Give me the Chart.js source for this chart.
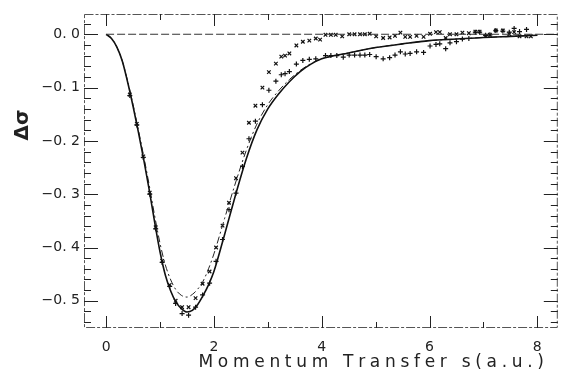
<!DOCTYPE html>
<html>
<head>
<meta charset="utf-8">
<script src="https://cdn.jsdelivr.net/npm/chart.js@4.4.1/dist/chart.umd.min.js"></script>
<style>
  body { margin: 0; background: #fff; }
  #wrap { width: 563px; height: 379px; }
</style>
</head>
<body>
<div id="wrap"><canvas id="chart" width="563" height="379"></canvas></div>
<script>
// momentum transfer grid for the two theory curves
const curveS = [0, 0.1, 0.2, 0.3, 0.4, 0.5, 0.6, 0.7, 0.8, 0.9, 1.0, 1.1, 1.2, 1.3, 1.4, 1.5, 1.6, 1.7, 1.8, 1.9, 2.0, 2.2, 2.4, 2.6, 2.8, 3.0, 3.2, 3.4, 3.6, 3.8, 4.0, 4.5, 5.0, 5.5, 6.0, 6.5, 7.0, 7.5, 8.0];
const solidCurve = [0, -0.008, -0.024, -0.050, -0.090, -0.135, -0.184, -0.236, -0.292, -0.352, -0.408, -0.452, -0.482, -0.503, -0.515, -0.521, -0.518, -0.507, -0.490, -0.470, -0.445, -0.375, -0.302, -0.234, -0.179, -0.140, -0.112, -0.089, -0.070, -0.056, -0.046, -0.035, -0.025, -0.018, -0.012, -0.009, -0.006, -0.004, -0.002];
const dashCurve = [0, -0.008, -0.024, -0.050, -0.088, -0.132, -0.180, -0.230, -0.283, -0.340, -0.392, -0.433, -0.461, -0.480, -0.490, -0.493, -0.488, -0.478, -0.463, -0.440, -0.412, -0.345, -0.279, -0.218, -0.168, -0.132, -0.106, -0.085, -0.068, -0.055, -0.046, -0.035, -0.025, -0.018, -0.012, -0.009, -0.006, -0.004, -0.002];

// experimental points, "x" markers
const crossS = [0.44, 0.57, 0.69, 0.81, 0.92, 1.04, 1.18, 1.29, 1.41, 1.53, 1.66, 1.79, 1.92, 2.04, 2.16, 2.28, 2.41, 2.53, 2.65, 2.77, 2.90, 3.02, 3.15, 3.25, 3.32, 3.40, 3.53, 3.65, 3.77, 3.89, 3.97, 4.07, 4.17, 4.26, 4.38, 4.51, 4.61, 4.71, 4.80, 4.89, 5.01, 5.14, 5.26, 5.36, 5.46, 5.55, 5.64, 5.76, 5.89, 6.01, 6.12, 6.19, 6.30, 6.38, 6.50, 6.61, 6.73, 6.85, 6.93, 7.04, 7.12, 7.23, 7.36, 7.48, 7.57, 7.67, 7.80, 7.88];
const crossVal = [-0.113, -0.168, -0.229, -0.297, -0.362, -0.425, -0.470, -0.500, -0.512, -0.512, -0.495, -0.468, -0.445, -0.400, -0.359, -0.316, -0.270, -0.222, -0.166, -0.134, -0.100, -0.071, -0.055, -0.042, -0.040, -0.036, -0.021, -0.014, -0.012, -0.008, -0.010, -0.001, -0.001, -0.001, -0.004, 0.000, 0.000, 0.000, 0.000, 0.001, -0.004, -0.007, -0.006, -0.003, 0.003, -0.005, -0.005, -0.003, -0.005, 0.001, 0.004, 0.004, -0.007, 0.000, 0.000, 0.003, 0.002, 0.005, 0.005, -0.003, -0.001, 0.007, 0.007, 0.000, 0.004, -0.004, -0.004, -0.004];

// experimental points, "+" markers
const plusS = [0.44, 0.57, 0.69, 0.81, 0.92, 1.04, 1.18, 1.29, 1.41, 1.53, 1.66, 1.79, 1.92, 2.04, 2.16, 2.28, 2.41, 2.53, 2.65, 2.77, 2.90, 3.02, 3.15, 3.25, 3.32, 3.40, 3.53, 3.65, 3.77, 3.89, 4.07, 4.17, 4.28, 4.40, 4.51, 4.61, 4.71, 4.80, 4.89, 5.01, 5.14, 5.26, 5.36, 5.46, 5.55, 5.64, 5.76, 5.89, 6.01, 6.12, 6.19, 6.30, 6.38, 6.50, 6.61, 6.73, 6.85, 6.93, 7.04, 7.12, 7.23, 7.36, 7.48, 7.57, 7.67, 7.80];
const plusVal = [-0.115, -0.170, -0.231, -0.300, -0.365, -0.428, -0.473, -0.505, -0.524, -0.527, -0.512, -0.489, -0.467, -0.426, -0.385, -0.329, -0.298, -0.248, -0.196, -0.163, -0.132, -0.105, -0.088, -0.076, -0.074, -0.070, -0.056, -0.049, -0.047, -0.046, -0.040, -0.040, -0.040, -0.043, -0.039, -0.039, -0.039, -0.039, -0.038, -0.042, -0.046, -0.044, -0.039, -0.033, -0.037, -0.036, -0.033, -0.034, -0.022, -0.019, -0.018, -0.027, -0.016, -0.014, -0.009, -0.008, 0.004, 0.004, -0.002, -0.001, 0.007, 0.006, 0.004, 0.011, 0.005, 0.009];

// zero reference line
const zeroLineS = [0, 8.4];
const zeroLineVal = [0, 0];

// axes
const xTicks = [0, 2, 4, 6, 8];
const xMinorTicks = [1, 3, 5, 7];
const yTicks = [0, -0.1, -0.2, -0.3, -0.4, -0.5];
const yTickLabels = ["0. 0", "\u22120. 1", "\u22120. 2", "\u22120. 3", "\u22120. 4", "\u22120. 5"];
const yMinorTicks = [0.02, -0.02, -0.04, -0.06, -0.08, -0.12, -0.14, -0.16, -0.18, -0.22, -0.24, -0.26, -0.28, -0.32, -0.34, -0.36, -0.38, -0.42, -0.44, -0.46, -0.48, -0.52, -0.54];
const xTitle = "Momentum Transfer s(a.u.)";
const yTitle = "\u0394\u03c3";

function pts(xs, ys) {
    return xs.map((x, i) => ({ x: x, y: ys[i] }));
}

// frame, inward ticks and axis titles
const framePlugin = {
    id: "frame",
    afterDatasetsDraw(chart) {
        const ctx = chart.ctx;
        const a = chart.chartArea;
        const xs = chart.scales.x;
        const ys = chart.scales.y;
        ctx.save();
        ctx.strokeStyle = "#555";
        ctx.lineWidth = 1;
        ctx.setLineDash([9, 2, 3, 2]);
        ctx.strokeRect(a.left + 0.5, a.top + 0.5, a.right - a.left - 1, a.bottom - a.top - 1);
        ctx.setLineDash([]);
        ctx.strokeStyle = "#222";
        ctx.beginPath();
        xTicks.concat(xMinorTicks).forEach(v => {
            const len = xTicks.includes(v) ? 12 : 6;
            const px = Math.round(xs.getPixelForValue(v)) + 0.5;
            ctx.moveTo(px, a.bottom); ctx.lineTo(px, a.bottom - len);
            ctx.moveTo(px, a.top); ctx.lineTo(px, a.top + len);
        });
        yTicks.concat(yMinorTicks).forEach(v => {
            const len = yTicks.includes(v) ? 14 : 7;
            const py = Math.round(ys.getPixelForValue(v)) + 0.5;
            ctx.moveTo(a.left, py); ctx.lineTo(a.left + len, py);
            ctx.moveTo(a.right, py); ctx.lineTo(a.right - len, py);
        });
        ctx.stroke();

        // x title, widely spaced like the plotter font
        ctx.fillStyle = "#222";
        ctx.font = "17px 'DejaVu Sans'";
        ctx.textBaseline = "middle";
        ctx.textAlign = "left";
        const wanted = 343;
        const plain = ctx.measureText(xTitle).width;
        const gap = (wanted - plain) / (xTitle.length - 1);
        let cx = 370 - wanted / 2;
        for (const ch of xTitle) {
            ctx.fillText(ch, cx, 363);
            cx += ctx.measureText(ch).width + gap;
        }

        // y title
        ctx.translate(23, 125);
        ctx.rotate(-Math.PI / 2);
        ctx.font = "bold 20px 'DejaVu Sans'";
        ctx.textAlign = "center";
        ctx.fillText(yTitle, 0, 0);
        ctx.restore();
    }
};

const ctx = document.getElementById("chart").getContext("2d");
new Chart(ctx, {
    type: "scatter",
    data: {
        datasets: [
            {
                data: pts(zeroLineS, zeroLineVal),
                showLine: true,
                borderColor: "#333",
                borderWidth: 1,
                borderDash: [8, 3],
                pointRadius: 0
            },
            {
                data: pts(curveS, solidCurve),
                showLine: true,
                borderColor: "#111",
                borderWidth: 1.6,
                cubicInterpolationMode: "monotone",
                pointRadius: 0
            },
            {
                data: pts(curveS, dashCurve),
                showLine: true,
                borderColor: "#222",
                borderWidth: 1,
                borderDash: [7, 3, 2, 3],
                cubicInterpolationMode: "monotone",
                pointRadius: 0
            },
            {
                data: pts(crossS, crossVal),
                pointStyle: "crossRot",
                pointRadius: 2.5,
                borderColor: "#111",
                borderWidth: 1.2
            },
            {
                data: pts(plusS, plusVal),
                pointStyle: "cross",
                pointRadius: 2.5,
                borderColor: "#111",
                borderWidth: 1.2
            }
        ]
    },
    options: {
        responsive: false,
        animation: false,
        layout: { padding: { top: 14, right: 0, left: 0, bottom: 0 } },
        plugins: {
            legend: { display: false },
            tooltip: { enabled: false }
        },
        scales: {
            x: {
                type: "linear",
                min: -0.41,
                max: 8.38,
                grid: { display: false, drawTicks: false },
                border: { display: false },
                afterFit: s => { s.height = 51; },
                afterBuildTicks: s => { s.ticks = xTicks.map(v => ({ value: v })); },
                ticks: {
                    padding: 11,
                    color: "#222",
                    font: { family: "DejaVu Sans", size: 14 },
                    maxRotation: 0,
                    callback: v => String(v)
                }
            },
            y: {
                type: "linear",
                min: -0.551,
                max: 0.038,
                grid: { display: false, drawTicks: false },
                border: { display: false },
                afterFit: s => { s.width = 84; },
                afterBuildTicks: s => { s.ticks = yTicks.map(v => ({ value: v })); },
                ticks: {
                    padding: 4,
                    color: "#222",
                    font: { family: "DejaVu Sans", size: 14 },
                    callback: v => yTickLabels[yTicks.findIndex(t => Math.abs(t - v) < 1e-9)]
                }
            }
        }
    },
    plugins: [framePlugin]
});
</script>
</body>
</html>
